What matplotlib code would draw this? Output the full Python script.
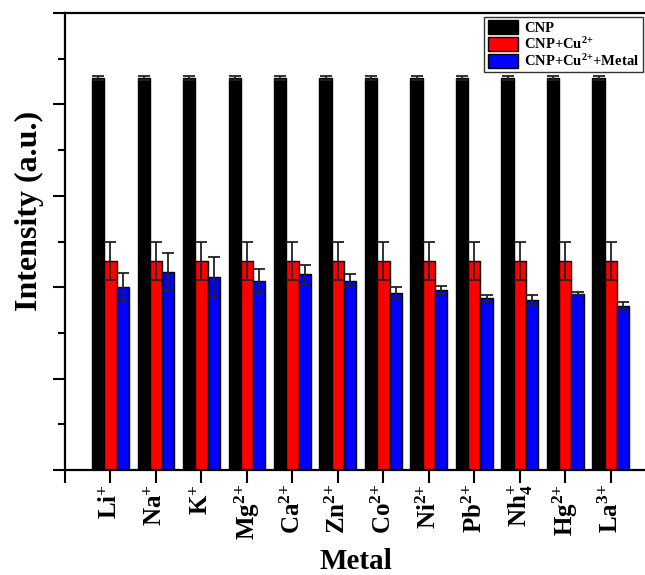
import matplotlib
matplotlib.use('Agg')
import matplotlib.pyplot as plt
from matplotlib.ticker import MultipleLocator
import numpy as np

plt.rcParams['font.family'] = ['Liberation Serif', 'DejaVu Serif']
plt.rcParams['font.weight'] = 'bold'
plt.rcParams['mathtext.fontset'] = 'custom'
plt.rcParams['mathtext.rm'] = 'Liberation Serif:bold'
plt.rcParams['mathtext.it'] = 'Liberation Serif:bold'
plt.rcParams['mathtext.bf'] = 'Liberation Serif:bold'

metals = [r'$\mathrm{Li}^{{+}}$', r'$\mathrm{Na}^{{+}}$', r'$\mathrm{K}^{{+}}$', r'$\mathrm{Mg}^{2{+}}$',
          r'$\mathrm{Ca}^{2{+}}$', r'$\mathrm{Zn}^{2{+}}$', r'$\mathrm{Co}^{2{+}}$', r'$\mathrm{Ni}^{2{+}}$',
          r'$\mathrm{Pb}^{2{+}}$', r'$\mathrm{Nh}_{4}^{{+}}$', r'$\mathrm{Hg}^{2{+}}$', r'$\mathrm{La}^{3{+}}$']
cnp = [4.29] * 12
cnp_err = [0.02] * 12
cnp_cu = [2.29] * 12
cnp_cu_err = [0.21] * 12
cnp_cu_metal = [2.00, 2.17, 2.11, 2.07, 2.14, 2.07, 1.94, 1.97, 1.88, 1.86, 1.93, 1.79]
cnp_cu_metal_err = [0.15, 0.20, 0.22, 0.13, 0.10, 0.07, 0.06, 0.04, 0.04, 0.05, 0.02, 0.05]

x = np.arange(1, len(metals) + 1)
w = 0.27

fig = plt.figure(figsize=(6.45, 5.75), dpi=100)
ax = fig.add_axes([0.1008, 0.1826, 0.9167, 0.7948])

err_kw = dict(ecolor='#222222', elinewidth=1.3, capsize=4.5, capthick=1.3)
ax.bar(x - w, cnp, w, yerr=cnp_err, color='black', edgecolor='black', linewidth=1,
       label='CNP', error_kw=err_kw)
ax.bar(x, cnp_cu, w, yerr=cnp_cu_err, color='#ff0000', edgecolor='black', linewidth=1,
       label='CNP+Cu$^{2{+}}$', error_kw=err_kw)
ax.bar(x + w, cnp_cu_metal, w, yerr=cnp_cu_metal_err, color='#0000ff', edgecolor='black',
       linewidth=1, label='CNP+Cu$^{2{+}}$+Metal', error_kw=err_kw)

ax.set_xlim(0, 13)
ax.set_ylim(0, 5)
ax.set_xticks(np.arange(0, 13))
ax.set_xticklabels([''] + metals, rotation=90, fontsize=18, fontweight='bold')
ax.yaxis.set_major_locator(MultipleLocator(1))
ax.yaxis.set_minor_locator(MultipleLocator(0.5))
ax.set_yticklabels([])
ax.tick_params(axis='both', which='major', direction='out', length=9, width=1.5)
ax.tick_params(axis='y', which='minor', direction='out', length=5, width=1.5)
ax.tick_params(axis='x', pad=1)
for side in ['left', 'bottom', 'top']:
    ax.spines[side].set_linewidth(1.6)
ax.spines['right'].set_visible(False)

ax.set_ylabel('Intensity (a.u.)', fontsize=23, fontweight='bold')
ax.yaxis.set_label_coords(-0.036, 0.567)
ax.set_xlabel('Metal', fontsize=21, fontweight='bold')
ax.xaxis.set_label_coords(0.492, -0.17)

leg = ax.legend(loc='upper right', bbox_to_anchor=(0.997, 0.971), bbox_transform=fig.transFigure,
                fontsize=10.5, frameon=True, fancybox=False, edgecolor='black',
                handlelength=2.1, handleheight=1.1, handletextpad=0.4, borderpad=0.25,
                labelspacing=0.05, borderaxespad=0)
leg.get_frame().set_linewidth(1.0)

fig.savefig('out.png', dpi=100)
